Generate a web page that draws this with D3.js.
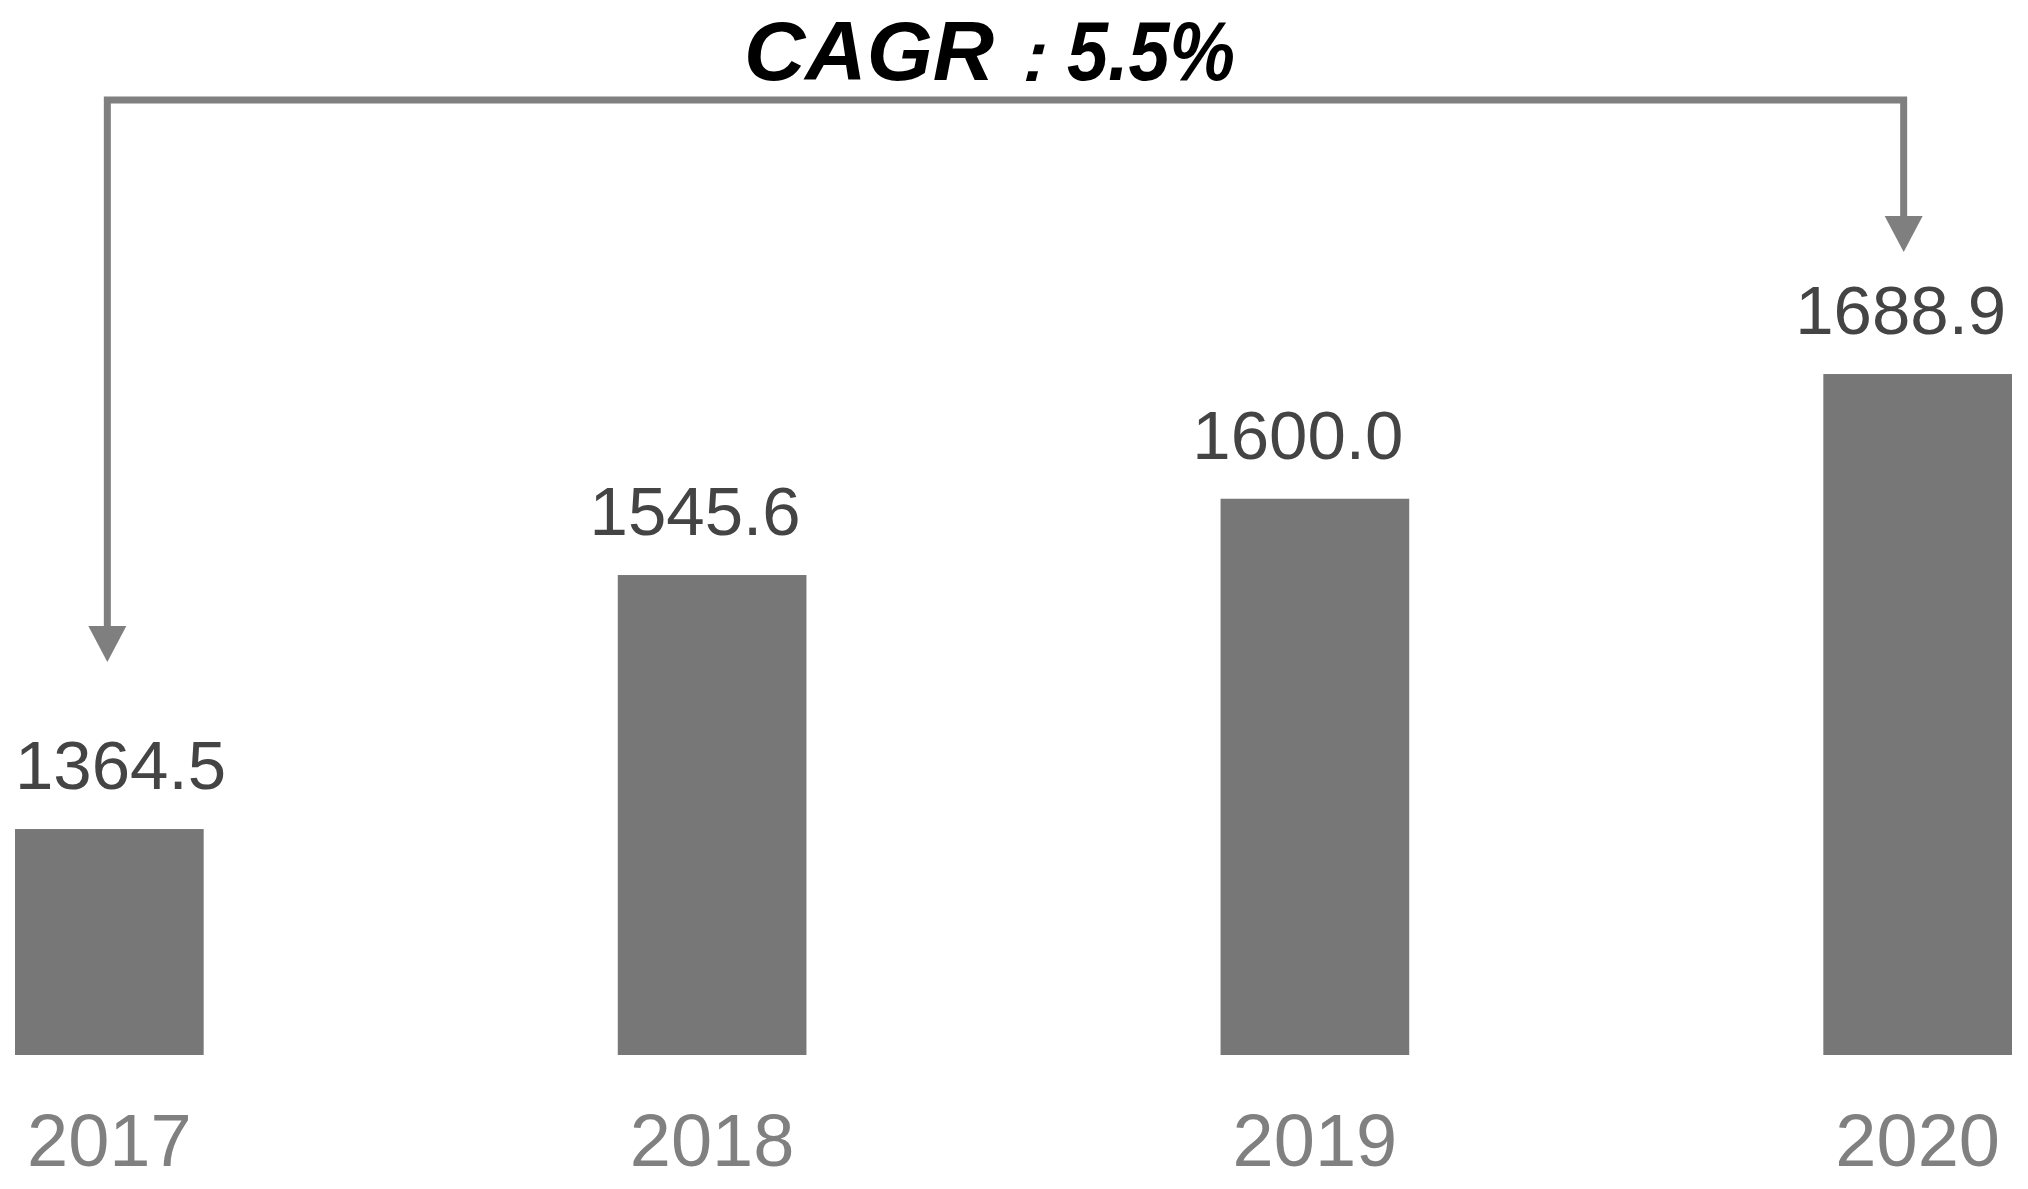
<!DOCTYPE html>
<html><head><meta charset="utf-8">
<script src="https://cdn.jsdelivr.net/npm/d3@7"></script>
<style>html,body{margin:0;padding:0;background:#fff;}svg{display:block;}</style>
</head><body>
<script>
const years = ["2017", "2018", "2019", "2020"];
const values = [1364.5, 1545.6, 1600.0, 1688.9];
const valueLabels = ["1364.5", "1545.6", "1600.0", "1688.9"];
const cagrParts = ["CAGR", "：", "5.5%"];

const W = 2028, H = 1189;
const svg = d3.select("body").append("svg").attr("width", W).attr("height", H);

const x = d3.scaleBand().domain(years).range([15, 2012]).paddingInner(0.687).paddingOuter(0);
const y = d3.scaleLinear().domain([1203.4, 1700]).range([1055, 1055 - 496.6 * 1.4026]);
const bw = x.bandwidth();

svg.selectAll("rect.bar").data(years).join("rect")
  .attr("class", "bar")
  .attr("x", d => x(d)).attr("width", bw)
  .attr("y", (d, i) => y(values[i]))
  .attr("height", (d, i) => y.range()[0] - y(values[i]))
  .attr("fill", "#777777");

const vl = svg.selectAll("text.val").data(years).join("text")
  .attr("class", "val")
  .attr("x", d => x(d) + bw / 2 - 17)
  .attr("y", (d, i) => y(values[i]) - 40)
  .attr("text-anchor", "middle")
  .attr("font-family", "Liberation Sans, Arial, sans-serif")
  .attr("font-size", 69)
  .attr("fill", "#444444")
  .text((d, i) => valueLabels[i]);
vl.each(function() {
  const b = this.getBBox();
  if (b.x < 15) d3.select(this).attr("x", +d3.select(this).attr("x") + (15 - b.x));
});

const xAxis = d3.axisBottom(x).tickSize(0).tickPadding(0);
const gx = svg.append("g").attr("transform", "translate(0,1166)").call(xAxis);
gx.select(".domain").remove();
gx.selectAll("text")
  .attr("dy", 0)
  .attr("font-family", "Liberation Sans, Arial, sans-serif")
  .attr("font-size", 74)
  .attr("fill", "#808080");

// CAGR connector
const lx = x(years[0]) + bw / 2 - 2;
const rx = x(years[years.length - 1]) + bw / 2 - 14;
const topY = 100;
const leftTip = y(values[0]) - 167;
const rightTip = y(values[values.length - 1]) - 122;
const head = 36, hw = 19;
const col = "#7f7f7f";

svg.append("path")
  .attr("d", `M${lx},${leftTip - head + 2} V${topY} H${rx} V${rightTip - head + 2}`)
  .attr("fill", "none").attr("stroke", col).attr("stroke-width", 7).attr("stroke-linejoin", "miter");
svg.append("path")
  .attr("d", `M${lx - hw},${leftTip - head} L${lx + hw},${leftTip - head} L${lx},${leftTip} Z`)
  .attr("fill", col);
svg.append("path")
  .attr("d", `M${rx - hw},${rightTip - head} L${rx + hw},${rightTip - head} L${rx},${rightTip} Z`)
  .attr("fill", col);

const ct = svg.append("text")
  .attr("y", 80)
  .attr("font-family", "Liberation Sans, Arial, sans-serif")
  .attr("font-weight", "bold").attr("font-style", "italic")
  .attr("font-size", 84)
  .attr("fill", "#000");
ct.append("tspan").attr("x", 744).attr("textLength", 250).attr("lengthAdjust", "spacingAndGlyphs").text(cagrParts[0]);
ct.append("tspan").attr("x", 997).attr("font-size", 68).text(cagrParts[1]);
ct.append("tspan").attr("x", 1067).attr("textLength", 168).attr("lengthAdjust", "spacingAndGlyphs").text(cagrParts[2]);
</script>
</body></html>
